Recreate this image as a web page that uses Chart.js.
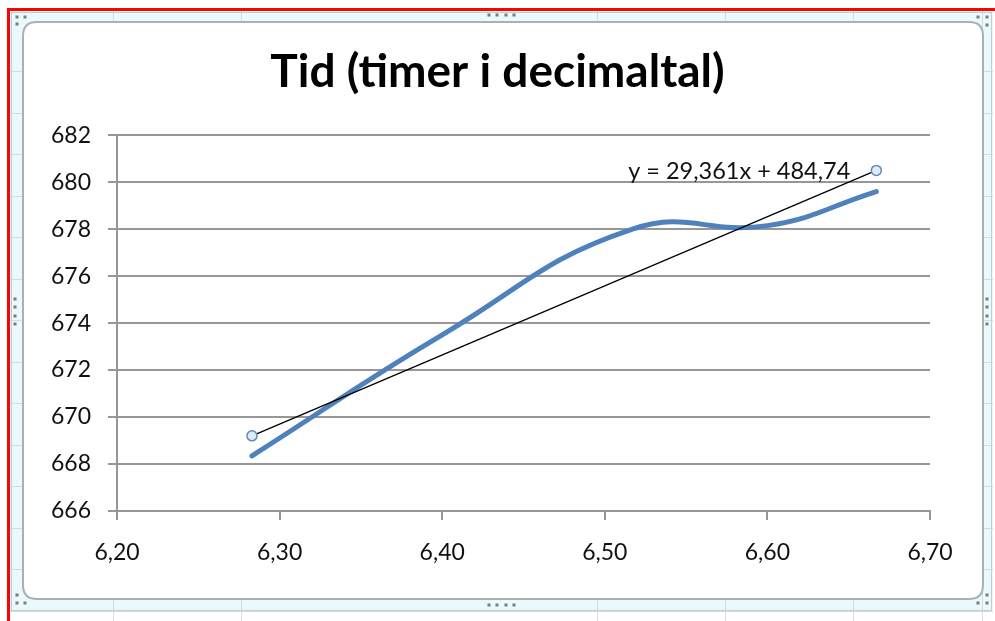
<!DOCTYPE html>
<html>
<head>
<meta charset="utf-8">
<script src="https://cdn.jsdelivr.net/npm/chart.js@4/dist/chart.umd.min.js"></script>
<style>
html,body{margin:0;padding:0;background:#fff;overflow:hidden}
#wrap{width:995px;height:621px;position:relative}
canvas{display:block}
</style>
</head>
<body>
<div id="wrap"><canvas id="c" width="995" height="621"></canvas></div>
<script>
// ---- data ----
const titleText = 'Tid (timer i decimaltal)';
const timeX  = [6.283, 6.400, 6.517, 6.600, 6.667];
const valueY = [668.35, 673.5, 678.0, 678.15, 679.6];
const trendX = [6.283, 6.667];
const trendY = [669.2, 680.5];
const trendLabel = 'y = 29,361x + 484,74';
const xTicks = [6.20, 6.30, 6.40, 6.50, 6.60, 6.70];
const yTicks = [666, 668, 670, 672, 674, 676, 678, 680, 682];

// ---- helpers ----
const fmtComma = v => v.toFixed(2).replace('.', ',');
const FONT = 'Lato, "Open Sans", sans-serif';
const TEXT = '#111111';
const GRID = '#979797';

const frameDecor = {
  id: 'frameDecor',
  beforeDraw(chart) {
    const c = chart.ctx;
    c.save();
    c.fillStyle = '#ffffff';
    c.fillRect(0, 0, chart.width, chart.height);
    // spreadsheet selection frame
    c.fillStyle = '#eaf9fc';
    c.fillRect(10, 11, 983, 601);
    // cell lines
    c.strokeStyle = '#cfdde6';
    c.lineWidth = 1;
    [113, 241, 597, 725, 853, 982].forEach(x => {
      c.beginPath(); c.moveTo(x + 0.5, 11); c.lineTo(x + 0.5, 621); c.stroke();
    });
    for (let y = 71; y < 612; y += 41.5) {
      c.beginPath(); c.moveTo(10, Math.round(y) + 0.5); c.lineTo(993, Math.round(y) + 0.5); c.stroke();
    }
    c.strokeStyle = '#c3cdd0';
    c.strokeRect(11.5, 12.5, 980, 598);
    // chart area (rounded)
    const x0 = 23, y0 = 22, x1 = 983, y1 = 599, r = 14;
    c.beginPath();
    c.moveTo(x0 + r, y0);
    c.lineTo(x1 - r, y0); c.quadraticCurveTo(x1, y0, x1, y0 + r);
    c.lineTo(x1, y1 - r); c.quadraticCurveTo(x1, y1, x1 - r, y1);
    c.lineTo(x0 + r, y1); c.quadraticCurveTo(x0, y1, x0, y1 - r);
    c.lineTo(x0, y0 + r); c.quadraticCurveTo(x0, y0, x0 + r, y0);
    c.closePath();
    c.fillStyle = '#ffffff';
    c.fill();
    c.strokeStyle = '#a9b1b3';
    c.lineWidth = 2;
    c.stroke();
    // red outline
    c.fillStyle = '#ff0000';
    c.fillRect(7, 8, 988, 3);
    c.fillRect(7, 8, 3, 613);
    // handles
    c.fillStyle = '#7c7c7c';
    const dot = (x, y) => c.fillRect(x - 1.5, y - 1.5, 3, 3);
    [489, 497, 506, 514].forEach(x => { dot(x, 15); dot(x, 605); });
    [299, 307, 316, 324].forEach(y => { dot(15, y); dot(987, y); });
    dot(17, 17); dot(25, 17); dot(17, 24);
    dot(978, 17); dot(987, 17); dot(987, 25);
    dot(17, 595); dot(17, 603); dot(25, 603);
    dot(987, 595); dot(987, 603); dot(978, 603);
    c.restore();
  }
};

const trendText = {
  id: 'trendText',
  afterDatasetsDraw(chart, args, opts) {
    const c = chart.ctx;
    const xs = chart.scales.x, ys = chart.scales.y;
    c.save();
    c.font = '23.5px ' + FONT;
    c.fillStyle = TEXT;
    c.textAlign = 'right';
    c.textBaseline = 'middle';
    c.fillText(opts.text, xs.getPixelForValue(opts.atX), ys.getPixelForValue(opts.atY));
    c.restore();
  }
};

new Chart(document.getElementById('c'), {
  type: 'line',
  data: {
    datasets: [
      {
        label: 'Tid',
        data: timeX.map((x, i) => ({ x, y: valueY[i] })),
        borderColor: '#4f81bd',
        borderWidth: 5,
        borderCapStyle: 'round',
        pointRadius: 0,
        tension: 0.45,
        fill: false,
        order: 3
      },
      {
        label: 'Trend',
        data: trendX.map((x, i) => ({ x, y: trendY[i] })),
        borderColor: '#000000',
        borderWidth: 1.3,
        pointRadius: 0,
        tension: 0,
        fill: false,
        order: 2
      },
      {
        label: 'Punkter',
        data: trendX.map((x, i) => ({ x, y: trendY[i] })),
        showLine: false,
        pointRadius: 5,
        pointBorderWidth: 1.5,
        pointBackgroundColor: '#dcecf8',
        pointBorderColor: '#6688b0',
        order: 1
      }
    ]
  },
  options: {
    responsive: false,
    animation: false,
    devicePixelRatio: 1,
    layout: { padding: { left: 0, right: 0, top: 0, bottom: 0 } },
    plugins: {
      legend: { display: false },
      tooltip: { enabled: false },
      title: {
        display: true,
        text: titleText,
        color: '#000000',
        font: { family: FONT, size: 46, weight: 'bold', lineHeight: 1.2 },
        padding: { top: 45, bottom: 35 }
      },
      trendText: { text: trendLabel, atX: 6.651, atY: 680.45 }
    },
    scales: {
      x: {
        type: 'linear',
        min: 6.2, max: 6.7,
        afterBuildTicks: s => { s.ticks = xTicks.map(v => ({ value: v })); },
        afterFit: s => { s.height = 110; },
        ticks: {
          callback: v => fmtComma(v),
          color: TEXT,
          font: { family: FONT, size: 23 },
          padding: 19,
          maxRotation: 0
        },
        grid: { drawOnChartArea: false, drawTicks: true, tickLength: 9, color: GRID, lineWidth: 2 },
        border: { display: true, color: GRID, width: 2 }
      },
      y: {
        min: 666, max: 682,
        afterBuildTicks: s => { s.ticks = yTicks.map(v => ({ value: v })); },
        afterFit: s => { s.width = 117; },
        ticks: {
          color: TEXT,
          font: { family: FONT, size: 23 },
          padding: 17
        },
        grid: { drawOnChartArea: true, drawTicks: true, tickLength: 9, color: GRID, lineWidth: 2 },
        border: { display: true, color: GRID, width: 2 }
      },
      yRight: {
        position: 'right',
        min: 666, max: 682,
        afterFit: s => { s.width = 65; },
        ticks: { display: false },
        grid: { display: false, drawTicks: false },
        border: { display: false }
      }
    }
  },
  plugins: [frameDecor, trendText]
});
</script>
</body>
</html>
